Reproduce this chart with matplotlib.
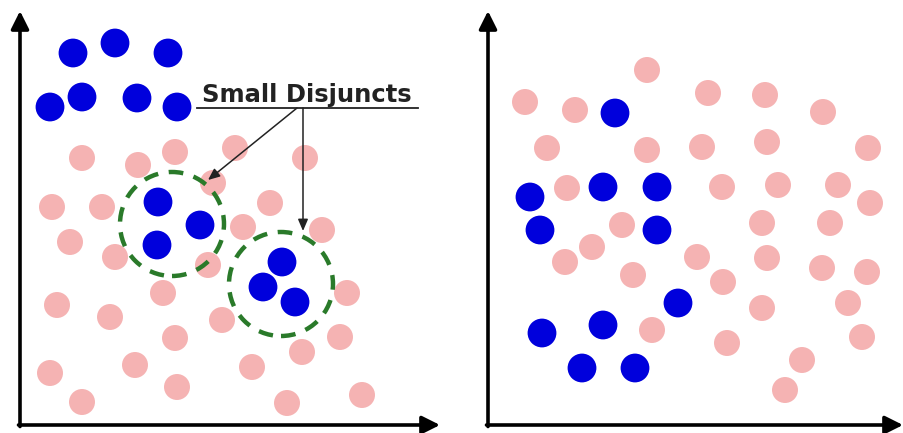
import matplotlib
matplotlib.use("Agg")
import matplotlib.pyplot as plt
from matplotlib.patches import Circle

# ---- data (panel-local units, origin at axes corner) ----
left_pink_x = [62, 118, 155, 215, 285, 193, 32, 82, 250, 50, 95, 223, 302, 188, 143, 37, 90, 202, 327, 155, 320, 282, 115, 30, 232, 157, 62, 267, 342]
left_pink_y = [267, 260, 273, 277, 267, 242, 218, 218, 222, 183, 168, 198, 195, 160, 132, 120, 108, 105, 132, 87, 88, 73, 60, 52, 58, 38, 23, 22, 30]
left_blue_x = [53, 95, 148, 30, 62, 117, 157, 138, 180, 137, 262, 243, 275]
left_blue_y = [372, 382, 372, 318, 328, 327, 318, 223, 200, 180, 163, 138, 123]
disjunct_cx = [152, 261]
disjunct_cy = [201, 141]
disjunct_r = [52, 52]
label_text = "Small Disjuncts"

right_pink_x = [159, 37, 87, 220, 277, 335, 59, 159, 214, 279, 380, 79, 234, 290, 350, 382, 134, 274, 342, 104, 77, 209, 279, 145, 235, 334, 379, 274, 360, 164, 239, 374, 314, 297]
right_pink_y = [355, 323, 315, 332, 330, 313, 277, 275, 278, 283, 277, 237, 238, 240, 240, 222, 200, 202, 202, 178, 163, 168, 167, 150, 143, 157, 153, 117, 122, 95, 82, 88, 65, 35]
right_blue_x = [127, 115, 169, 42, 52, 169, 190, 115, 54, 94, 147]
right_blue_y = [312, 238, 238, 228, 195, 195, 122, 100, 92, 57, 57]

PINK = "#f5b3b3"
BLUE = "#0000dc"
GREEN = "#2a7a2a"

W, H = 904, 433
fig = plt.figure(figsize=(W / 100, H / 100), dpi=100)
fig.patch.set_facecolor("white")

def make_axes(x0, width):
    ax = fig.add_axes([x0 / W, 8 / H, width / W, 412 / H])
    ax.set_xlim(0, width)
    ax.set_ylim(0, 412)
    ax.axis("off")
    ap = dict(arrowstyle="-|>,head_length=0.9,head_width=0.45", lw=2.6,
              color="black", shrinkA=0, shrinkB=0, mutation_scale=12)
    ax.annotate("", xy=(width, 0), xytext=(-1.5, 0), arrowprops=ap,
                annotation_clip=False)
    ax.annotate("", xy=(0, 414), xytext=(0, -1.5), arrowprops=ap,
                annotation_clip=False)
    return ax

axL = make_axes(20, 420)
axR = make_axes(488, 415)

PS, BS = 350, 430
axL.scatter(left_pink_x, left_pink_y, s=PS, c=PINK, edgecolors="none", zorder=2, clip_on=False)
axL.scatter(left_blue_x, left_blue_y, s=BS, c=BLUE, edgecolors="none", zorder=3, clip_on=False)
for cx, cy, r in zip(disjunct_cx, disjunct_cy, disjunct_r):
    axL.add_patch(Circle((cx, cy), r, fill=False, ec=GREEN, lw=3.2,
                         linestyle=(0, (3.3, 2.4)), zorder=4))

axL.text(287, 323, label_text, ha="center", va="baseline", fontsize=17.5,
         fontweight="bold", color="#222222", zorder=5)
axL.plot([177, 398], [317, 317], color="#222222", lw=1.3, zorder=5)
arr = dict(arrowstyle="-|>,head_length=0.7,head_width=0.3", lw=1.1,
           color="#222222", shrinkA=0, shrinkB=0, mutation_scale=10)
axL.annotate("", xy=(188, 245), xytext=(277, 317), arrowprops=arr, zorder=5)
axL.annotate("", xy=(283, 194), xytext=(283, 317), arrowprops=arr, zorder=5)

axR.scatter(right_pink_x, right_pink_y, s=PS, c=PINK, edgecolors="none", zorder=2, clip_on=False)
axR.scatter(right_blue_x, right_blue_y, s=BS, c=BLUE, edgecolors="none", zorder=3, clip_on=False)

fig.savefig("out.png", dpi=100)
